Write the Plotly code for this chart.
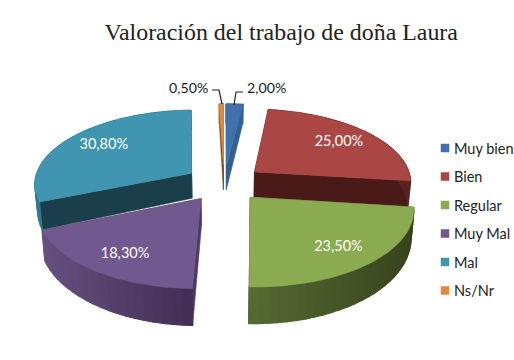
import math
import plotly.graph_objects as go

# ---- data ----
categories = ["Muy bien", "Bien", "Regular", "Muy Mal", "Mal", "Ns/Nr"]
values = [2.0, 25.0, 23.5, 18.3, 30.8, 0.5]
value_labels = ["2,00%", "25,00%", "23,50%", "18,30%", "30,80%", "0,50%"]
title_text = "Valoración del trabajo de doña Laura"

# ---- styles ----
top_colors = ["#4071ad", "#aa4644", "#8aab4f", "#71588f", "#4096b0", "#e08a3e"]
side_colors = ["#335f92", "#4a1a18", "#3a4a20", "#4e3a66", "#1a3f4b", "#7a4a1c"]
wall_left = ["#335f92", "#7a2f2d", "#566a33", "#67507f", "#2f7a90", "#a0622a"]
wall_right = ["#335f92", "#5a2220", "#36441c", "#422e54", "#2f7a90", "#a0622a"]
FONT = "Lato"
SERIF = "Liberation Serif"

# ---- projection of the exploded disc ----
CX, CY = 224.0, 183.0
RX, RY = 157.5, 73.7
PERSP = 0.132
EXPLODE = 0.25
DEPTH = 26.0
BOTTOM_SHRINK = 0.985
LABEL_R = 0.73
LABEL_NUDGE = {1: (2, 0), 2: (3, 4), 3: (-1, 5), 4: (1, -1)}


def project(u, v, lower=False):
    s = 1.0 / (1.0 + PERSP * v)
    x = RX * u * s
    y = -RY * v * s
    if lower:
        return CX + x * BOTTOM_SHRINK, CY + y + DEPTH * s * s
    return CX + x, CY + y


def disc(angle, r, mid):
    a, m = math.radians(angle), math.radians(mid)
    return r * math.sin(a) + EXPLODE * math.sin(m), r * math.cos(a) + EXPLODE * math.cos(m)


def lerp_hex(c1, c2, t):
    p = [int(c1[i:i + 2], 16) for i in (1, 3, 5)]
    q = [int(c2[i:i + 2], 16) for i in (1, 3, 5)]
    return "#%02x%02x%02x" % tuple(round(a + (b - a) * t) for a, b in zip(p, q))


def poly(fig, pts, color, name, line=0.6):
    fig.add_trace(go.Scatter(
        x=[p[0] for p in pts] + [pts[0][0]], y=[p[1] for p in pts] + [pts[0][1]],
        mode="lines", fill="toself", fillcolor=color,
        line=dict(color=color, width=line), name=name,
        hoverinfo="skip", showlegend=False))


total = sum(values)
spans, start = [], 0.0
for val in values:
    sweep = 360.0 * val / total
    spans.append((start, start + sweep))
    start += sweep

fig = go.Figure()
order = [0, 5, 1, 4, 3, 2]  # back to front
for i in order:
    a0, a1 = spans[i]
    mid = (a0 + a1) / 2
    name = categories[i]
    apex_u, apex_v = disc(0, 0, mid)
    for edge in (a0, a1):
        u, v = disc(edge, 1, mid)
        poly(fig, [project(apex_u, apex_v), project(u, v),
                   project(u, v, True), project(apex_u, apex_v, True)],
             side_colors[i], name)
    n = max(2, int((a1 - a0) / 3))
    # outer wall, drawn as shaded strips left to right on the picture
    for k in range(n):
        b0 = a0 + (a1 - a0) * k / n
        b1 = a0 + (a1 - a0) * (k + 1) / n
        arc = [disc(b0 + (b1 - b0) * j / 3, 1, mid) for j in range(4)]
        lo = project(*disc(a0, 1, mid))[0]
        hi = project(*disc(a1, 1, mid))[0]
        xm = (project(*arc[0])[0] + project(*arc[3])[0]) / 2
        t = (xm - min(lo, hi)) / max(1.0, abs(hi - lo))
        poly(fig, [project(*p) for p in arc] + [project(*p, True) for p in reversed(arc)],
             lerp_hex(wall_left[i], wall_right[i], t), name, line=1.2)
    m = max(2, int((a1 - a0) / 2))
    rim = [project(*disc(a0 + (a1 - a0) * k / m, 1, mid)) for k in range(m + 1)]
    poly(fig, [project(apex_u, apex_v)] + rim, top_colors[i], name)

# value labels inside the big slices
for i in (1, 2, 3, 4):
    a0, a1 = spans[i]
    mid = (a0 + a1) / 2
    px, py = project(*disc(mid, LABEL_R, mid))
    dx, dy = LABEL_NUDGE[i]
    fig.add_trace(go.Scatter(x=[px + dx], y=[py + dy], mode="text", text=[value_labels[i]],
                             textfont=dict(family=FONT, size=14.5, color="white"),
                             textposition="middle center", hoverinfo="skip", showlegend=False))

# outside labels with leader lines
for i, line_x, line_y, lab_x, lab_y, anchor in [
    (0, [234, 236, 243], [105, 92, 92], 245, 87, "left"),
    (5, [222, 219, 212], [104, 90, 90], 210, 87, "right"),
]:
    fig.add_trace(go.Scatter(x=line_x, y=line_y, mode="lines",
                             line=dict(color="#222222", width=1.2),
                             hoverinfo="skip", showlegend=False))
    fig.add_annotation(x=lab_x, y=lab_y, text=value_labels[i], showarrow=False,
                       xanchor=anchor, yanchor="middle",
                       font=dict(family=FONT, size=14.2, color="#1a1a1a"))

# legend
legend_y = [148, 176.5, 205, 233.5, 262, 290.5]
for i, cat in enumerate(categories):
    fig.add_trace(go.Scatter(x=[445], y=[legend_y[i]], mode="markers", name=cat,
                             marker=dict(symbol="square", size=8.5, color=top_colors[i]),
                             hoverinfo="skip", showlegend=False))
    fig.add_annotation(x=453, y=legend_y[i], text=cat, showarrow=False, xanchor="left",
                       yanchor="middle", xshift=-1,
                       font=dict(family=FONT, size=14.5, color="#222222"))

fig.update_layout(
    width=514, height=360, margin=dict(l=0, r=0, t=0, b=0),
    paper_bgcolor="white", plot_bgcolor="white", showlegend=False,
    title=dict(text=title_text, x=0.547, xanchor="center", y=0.911, yanchor="middle",
               font=dict(family=SERIF, size=23.9, color="#222222")),
    xaxis=dict(range=[0, 514], visible=False, fixedrange=True),
    yaxis=dict(range=[360, 0], visible=False, fixedrange=True),
)
fig.write_html("out.html", config={"displayModeBar": False},
               post_script="document.body.style.margin='0';")
